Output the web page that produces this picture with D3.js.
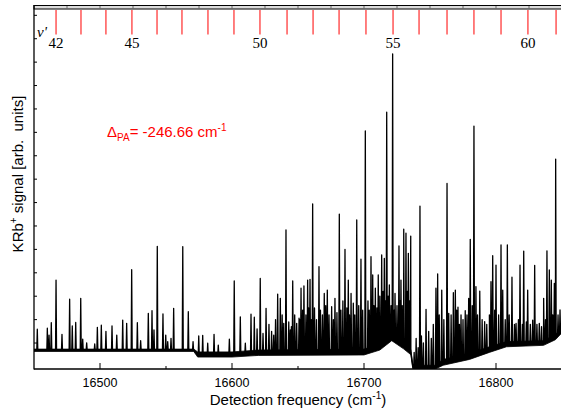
<!DOCTYPE html>
<html><head><meta charset="utf-8">
<script src="https://cdn.jsdelivr.net/npm/d3@7"></script>
<style>html,body{margin:0;padding:0;background:#fff;} svg{display:block;}</style>
</head><body>
<svg id="chart" width="561" height="408"></svg>
<script>
// ---- data (arbitrary signal units) ----
// baseline noise band: upper and lower envelope of the background signal
const baseFreq = [16450,16571,16574,16600,16620,16700,16712,16721,16730,16735.5,16737,16754,16760,16780,16795,16808,16836,16845,16850];
const baseHi   = [-2.6,-2.6,-3.8,-3.8,-3.0,-2.6,-0.5,3.0,-0.5,-2.8,-9.5,-9.5,-7.0,-4.5,-1.6,0.6,1.0,3.6,6.6];
const baseLo   = [-3.6,-3.6,-6.0,-6.0,-5.3,-5.1,-3.0,1.0,-2.5,-5.0,-11.1,-11.1,-9.5,-7.0,-4.0,-1.6,-1.0,1.4,4.4];

const peakFreq = [16452.5,16460.1,16461.4,16463.1,16466.7,16471.2,16477.0,16479.0,16481.6,16485.4,16486.9,16489.9,16496.0,16498.0,16501.0,16504.5,16509.1,16512.7,16517.2,16520.2,16524.0,16528.3,16530.8,16536.6,16539.4,16540.9,16543.4,16547.7,16549.8,16551.3,16553.8,16555.8,16562.7,16566.9,16570.5,16574.8,16577.8,16581.6,16586.4,16589.6,16598.0,16601.7,16606.3,16610.1,16614.4,16616.9,16621.4,16623.5,16625.8,16631.6,16634.6,16636.6,16639.2,16640.9,16644.2,16646.0,16649.0,16650.8,16652.3,16654.5,16657.3,16659.1,16661.1,16665.9,16669.9,16672.2,16675.5,16678.0,16681.3,16685.6,16688.1,16690.2,16691.9,16694.5,16697.7,16701.0,16705.3,16706.6,16708.6,16710.8,16713.4,16715.4,16717.2,16719.2,16721.7,16723.5,16726.5,16728.0,16730.1,16731.8,16733.6,16735.4,16742.4,16747.0,16754.5,16755.8,16758.9,16762.9,16764.2,16767.7,16769.2,16771.2,16773.5,16776.7,16779.3,16780.5,16783.3,16784.8,16787.7,16791.4,16796.2,16797.5,16800.0,16803.8,16805.1,16808.6,16812.1,16815.2,16818.2,16821.0,16824.0,16827.8,16829.3,16832.8,16836.1,16838.6,16840.4,16841.9,16844.2,16845.2,16848.5];
const peakHeight = [5.9,6.3,3.4,8.7,26.9,3.7,18.7,7.3,8.8,19.1,1.7,0.1,-0.4,6.7,7.6,5.0,7.3,3.4,9.8,8.4,31.3,8.7,1.0,12.7,13.8,5.6,41.3,12.4,3.4,0.6,2.0,14.8,41.2,13.4,0.6,3.0,3.3,-0.1,3.7,-0.9,1.6,26.5,11.2,-0.1,12.3,11.0,27.6,4.1,14.8,3.4,20.9,19.1,8.4,48.3,5.6,26.5,8.4,10.6,23.4,24.4,26.9,27.2,59.4,32.6,21.2,22.6,15.5,19.1,55.1,40.0,26.9,21.2,17.0,52.6,35.8,90.6,36.9,29.1,23.4,29.1,37.6,36.2,98.6,24.8,123.5,21.2,41.5,26.9,48.6,46.9,38.3,45.7,58.5,14.4,23.4,29.5,22.6,68.2,12.7,21.5,22.6,15.3,12.0,13.8,19.1,44.3,92.7,24.1,22.2,9.1,26.2,37.3,33.3,41.9,22.6,41.9,28.1,8.4,33.3,39.3,22.6,9.8,33.2,8.4,19.1,39.4,31.2,26.9,25.5,78.6,14.1];

const grassFreq = [16619,16628,16630,16633,16638,16643,16645,16647.5,16651.5,16653.5,16656,16658,16660,16662.5,16664,16667,16668.5,16671,16673.5,16676.8,16679.5,16682.5,16684,16687,16689,16693,16696,16699,16703,16704,16707.5,16709.8,16712,16714.5,16716.3,16718.3,16720.5,16722.8,16725,16727.3,16729,16732.8,16734.5,16738,16739.5,16741,16743.5,16745,16749,16751,16752.5,16757,16760.5,16766,16770.2,16772.3,16775,16778,16782,16786,16789.5,16793,16795,16799,16802,16807,16810,16814,16817,16820,16823,16826,16831,16834.5,16837.5,16843,16847];
const grassHeight = [6,8,5,10,12,9,7,12,10,14,12,15,10,15,10,14,12,16,12,10,13,14,18,15,12,12,16,14,18,14,16,15,20,22,18,20,16,14,16,18,16,22,18,-4,2,-2,3,0,5,2,8,12,10,12,14,8,10,12,16,12,10,8,12,14,12,10,12,8,10,8,9,8,8,7,10,12,12];

const vQuantum = [42,43,44,45,46,47,48,49,50,51,52,53,54,55,56,57,58,59,60,61];
const vFreq = [16466.7,16485.6,16504.5,16524.2,16543.2,16562.1,16581.8,16601.5,16621.2,16641.7,16661.4,16681.1,16701.5,16722.0,16741.7,16762.9,16783.3,16803.8,16824.2,16845.5];
const vLabelled = [42,45,50,55,60];

const xMajorTicks = [16500,16600,16700,16800];
const xMinorTicks = [16550,16650,16750];
const topTicks = [16475,16500,16525,16550,16575,16600,16625,16650,16675,16700,16725,16750,16775,16800,16825];
const yTicks = [0,10,20,30,40,50,60,70,80,90,100,110,120,130,140];

// ---- drawing ----
const svg = d3.select('#chart');
const L = 34, R = 562, B = 369, T = 9;
const x = d3.scaleLinear().domain([16450,16850]).range([L,R]);
const y = d3.scaleLinear().domain([-11.1,142.7]).range([B,T]);
const sans = "'Liberation Sans', Arial, sans-serif";
const serif = "'Liberation Serif', 'Times New Roman', serif";

svg.append('defs').append('clipPath').attr('id','clip')
  .append('rect').attr('x',L).attr('y',T).attr('width',R-L).attr('height',B-T);

const hiAt = d3.scaleLinear().domain(baseFreq).range(baseHi).clamp(true);
const loAt = d3.scaleLinear().domain(baseFreq).range(baseLo).clamp(true);
const midAt = f => (hiAt(f) + loAt(f)) / 2;
const HW = 0.38;
const pts = [];
baseFreq.forEach(f=>pts.push([f, midAt(f)]));
function addPeaks(fs, hs){
  fs.forEach((f,i)=>{
    pts.push([f-HW, midAt(f-HW)]);
    pts.push([f, hs[i]]);
    pts.push([f+HW, midAt(f+HW)]);
  });
}
addPeaks(peakFreq, peakHeight);
addPeaks(grassFreq, grassHeight);
pts.sort((a,b)=>a[0]-b[0]);

const g = svg.append('g').attr('clip-path','url(#clip)');
const area = d3.area().x(d=>x(d)).y0(d=>y(loAt(d))).y1(d=>y(hiAt(d)));
g.append('path').datum(baseFreq).attr('d',area).attr('fill','#000').attr('stroke','#000').attr('stroke-width',0.8);
const line = d3.line().x(d=>x(d[0])).y(d=>y(d[1]));
g.append('path').datum(pts)
  .attr('d',line).attr('fill','none').attr('stroke','#000').attr('stroke-width',1.3).attr('stroke-linejoin','round');

// frame
svg.append('rect').attr('x',L).attr('y',5.5).attr('width',R-L+2).attr('height',3.5)
  .attr('fill','#dcdcdc').attr('stroke','#000').attr('stroke-width',1);
svg.selectAll('.tt').data(topTicks).join('line')
  .attr('x1',d=>x(d)).attr('x2',d=>x(d)).attr('y1',6).attr('y2',9)
  .attr('stroke','#666').attr('stroke-width',1);
svg.append('line').attr('x1',L).attr('x2',L).attr('y1',5).attr('y2',B+0.5).attr('stroke','#000').attr('stroke-width',1.3);
svg.append('line').attr('x1',L).attr('x2',R).attr('y1',B).attr('y2',B).attr('stroke','#000').attr('stroke-width',1.3);

// y ticks (inward, unlabeled)
svg.selectAll('.yt').data(yTicks).join('line')
  .attr('x1',L).attr('x2',L+3).attr('y1',d=>y(d)).attr('y2',d=>y(d))
  .attr('stroke','#000').attr('stroke-width',1);

// x ticks
svg.selectAll('.xM').data(xMajorTicks).join('line')
  .attr('x1',d=>x(d)).attr('x2',d=>x(d)).attr('y1',B).attr('y2',B-6)
  .attr('stroke','#000').attr('stroke-width',1);
svg.selectAll('.xm').data(xMinorTicks).join('line')
  .attr('x1',d=>x(d)).attr('x2',d=>x(d)).attr('y1',B).attr('y2',B-3)
  .attr('stroke','#000').attr('stroke-width',1);
svg.selectAll('.xl').data(xMajorTicks).join('text')
  .attr('x',d=>x(d)).attr('y',387).attr('text-anchor','middle')
  .attr('font-family',sans).attr('font-size',12.5).attr('fill','#000').text(d=>d);

// top v' ticks
svg.selectAll('.vt').data(vFreq).join('line')
  .attr('x1',d=>x(d)).attr('x2',d=>x(d)).attr('y1',10).attr('y2',34.5)
  .attr('stroke','#ff0000').attr('stroke-width',1);
svg.selectAll('.vl').data(vQuantum.filter(v=>vLabelled.includes(v))).join('text')
  .attr('x',v=>x(vFreq[vQuantum.indexOf(v)])).attr('y',48).attr('text-anchor','middle')
  .attr('font-family',serif).attr('font-size',15).attr('fill','#000').text(v=>v);
svg.append('text').attr('x',37).attr('y',37).attr('font-family',serif).attr('font-style','italic')
  .attr('font-size',15).text("v'");

// annotation
const ann = svg.append('text').attr('x',107).attr('y',137).attr('font-family',sans).attr('font-size',15).attr('fill','#ff0000');
ann.append('tspan').text('Δ');
ann.append('tspan').attr('font-size',10).attr('dy',4).text('PA');
ann.append('tspan').attr('dy',-4).text('= -246.66 cm');
ann.append('tspan').attr('font-size',10).attr('dy',-6).text('-1');

// axis titles
const xt = svg.append('text').attr('x',298).attr('y',405).attr('text-anchor','middle')
  .attr('font-family',sans).attr('font-size',15).attr('fill','#000');
xt.append('tspan').text('Detection frequency (cm');
xt.append('tspan').attr('font-size',10).attr('dy',-6).text('-1');
xt.append('tspan').attr('dy',6).text(')');

const yt = svg.append('text').attr('transform','translate(23,174) rotate(-90)').attr('text-anchor','middle')
  .attr('font-family',sans).attr('font-size',15).attr('fill','#000').style('white-space','pre');
yt.append('tspan').text('KRb');
yt.append('tspan').attr('font-size',10).attr('dy',-6).text('+');
yt.append('tspan').attr('dy',6).text(' signal [arb.  units]');
</script>
</body></html>
